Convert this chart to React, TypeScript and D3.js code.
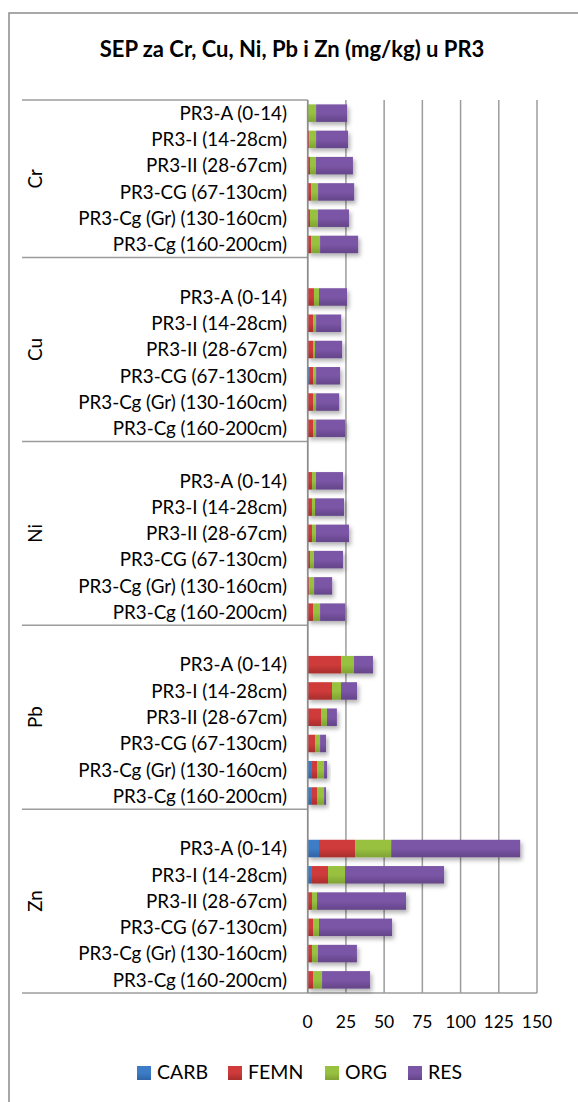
import * as d3 from "d3";

// SEP fractions (mg/kg) per element and soil horizon, PR3 profile
const elements = ["Cr", "Cu", "Ni", "Pb", "Zn"];
const horizons = [
  "PR3-A (0-14)",
  "PR3-I (14-28cm)",
  "PR3-II (28-67cm)",
  "PR3-CG (67-130cm)",
  "PR3-Cg (Gr) (130-160cm)",
  "PR3-Cg (160-200cm)",
];
const fractions = ["CARB", "FEMN", "ORG", "RES"];
const colors = ["#3d7cc6", "#cf3b3a", "#98c13f", "#7b56a6"];
const darks = ["#2f64a6", "#a82e2d", "#7fa233", "#644589"];

// values listed element by element, horizons in order above
const carb = [
  0, 0, 0, 0, 0, 0,
  0, 0, 0, 0.9, 0, 0,
  0, 0, 0, 0, 0, 0,
  0, 0, 0, 0, 2.8, 2.8,
  7.4, 2.8, 0, 0, 0, 0,
];
const femn = [
  0, 0.9, 1.5, 2.2, 1.5, 2.2,
  4.1, 3.5, 3.5, 2.6, 3.5, 3.5,
  2.8, 2.8, 2.8, 1.5, 0.9, 3.5,
  21.8, 15.9, 8.7, 4.8, 3.3, 3.3,
  23.6, 10.5, 2.8, 3.5, 2.8, 3.5,
];
const org = [
  5.5, 4.6, 3.9, 4.6, 5.2, 5.9,
  3.3, 2.0, 1.3, 2.0, 2.0, 2.0,
  2.6, 2.0, 2.6, 2.6, 3.3, 4.6,
  8.5, 5.9, 3.9, 3.3, 4.6, 4.6,
  23.6, 11.1, 3.3, 3.9, 3.9, 5.9,
];
const res = [
  20.3, 20.9, 24.2, 23.6, 20.3, 24.9,
  18.3, 16.4, 17.7, 15.7, 15.1, 19.0,
  17.7, 19.0, 21.6, 19.0, 11.8, 16.4,
  12.4, 10.5, 6.5, 3.9, 2.0, 1.3,
  84.4, 64.8, 58.2, 47.8, 25.5, 31.4,
];
const xTicks = [0, 25, 50, 75, 100, 125, 150];

const W = 578;
const H = 1102;
const FONT = "Lato, Carlito, 'Liberation Sans', sans-serif";

export default function App() {
  // slots: every element's horizons, with one empty slot between groups
  const slots: string[] = [];
  elements.forEach((el, gi) => {
    if (gi > 0) slots.push(`gap-${gi}`);
    horizons.forEach((h) => slots.push(`${el}|${h}`));
  });

  const x = d3.scaleLinear().domain([0, 150]).range([307.7, 537]);
  const y = d3.scaleBand<string>().domain(slots).range([100, 993]).paddingInner(0.333).paddingOuter(0.1667);
  const half = (y.step() - y.bandwidth()) / 2;

  const rows = elements.flatMap((el, gi) =>
    horizons.map((h, hi) => {
      const i = gi * horizons.length + hi;
      const vals = [carb[i], femn[i], org[i], res[i]];
      const stack: { k: number; x0: number; x1: number }[] = [];
      let acc = 0;
      vals.forEach((v, k) => {
        stack.push({ k, x0: acc, x1: acc + v });
        acc += v;
      });
      return { key: `${el}|${h}`, label: h, stack };
    })
  );

  // group boundaries: top of each group's first slot, then the plot bottom
  const bounds = elements.map((el, gi) => {
    const first = gi === 0 ? `${el}|${horizons[0]}` : `gap-${gi}`;
    return (y(first) ?? 0) - half;
  });
  bounds.push(993);

  return (
    <svg width={W} height={H} style={{ position: "absolute", left: 0, top: 0, background: "#fff" }} fontFamily={FONT}>
      <defs>
        {colors.map((c, k) => (
          <linearGradient key={k} id={`g${k}`} x1="0" y1="0" x2="0" y2="1">
            <stop offset="0" stopColor={c} />
            <stop offset="0.5" stopColor={c} />
            <stop offset="1" stopColor={darks[k]} />
          </linearGradient>
        ))}
        <filter id="sh" x="-10%" y="-30%" width="130%" height="180%">
          <feDropShadow dx="2" dy="3" stdDeviation="2.2" floodColor="#000" floodOpacity="0.3" />
        </filter>
      </defs>

      <rect x={9} y={13} width={W} height={H} fill="none" stroke="#8c8c8c" strokeWidth={1.5} />

      <text x={292} y={57} textAnchor="middle" fontSize={22} fontWeight="bold" fill="#000">
        SEP za Cr, Cu, Ni, Pb i Zn (mg/kg) u PR3
      </text>

      {/* vertical gridlines */}
      {xTicks.map((t) => (
        <line key={t} x1={x(t)} x2={x(t)} y1={100} y2={993} stroke="#9c9c9c" strokeWidth={1.5} />
      ))}

      {/* group separators in the category area */}
      {bounds.map((b, i) => (
        <line key={i} x1={22} x2={i === bounds.length - 1 ? x(150) : x(0)} y1={b} y2={b} stroke="#9c9c9c" strokeWidth={1.5} />
      ))}

      {/* bars */}
      {rows.map((r) => (
        <g key={r.key} filter="url(#sh)">
          {r.stack
            .filter((s) => s.x1 > s.x0)
            .map((s) => (
              <rect
                key={s.k}
                x={x(s.x0)}
                y={y(r.key)}
                width={x(s.x1) - x(s.x0)}
                height={y.bandwidth()}
                fill={`url(#g${s.k})`}
              />
            ))}
        </g>
      ))}

      {/* category labels */}
      {rows.map((r) => (
        <text key={r.key} x={287} y={(y(r.key) ?? 0) + y.bandwidth() / 2} dy="0.36em" textAnchor="end" fontSize={18.8} fill="#000">
          {r.label}
        </text>
      ))}

      {/* element labels */}
      {elements.map((el, gi) => {
        const cy = (bounds[gi] + bounds[gi + 1]) / 2;
        return (
          <text key={el} transform={`translate(42,${cy}) rotate(-90)`} textAnchor="middle" fontSize={18.8} fill="#000">
            {el}
          </text>
        );
      })}

      {/* axis line */}
      <line x1={x(0)} x2={x(0)} y1={100} y2={993} stroke="#8c8c8c" strokeWidth={1.5} />

      {/* x tick labels */}
      {xTicks.map((t) => (
        <text key={t} x={x(t)} y={1028} textAnchor="middle" fontSize={17.5} fill="#000">
          {t}
        </text>
      ))}

      {/* legend */}
      {fractions.map((f, k) => {
        const lx = [137, 228, 325, 408][k];
        return (
          <g key={f}>
            <rect x={lx} y={1066} width={14} height={14} fill={`url(#g${k})`} />
            <text x={lx + 20} y={1079} fontSize={19.5} fill="#000">
              {f}
            </text>
          </g>
        );
      })}
    </svg>
  );
}
